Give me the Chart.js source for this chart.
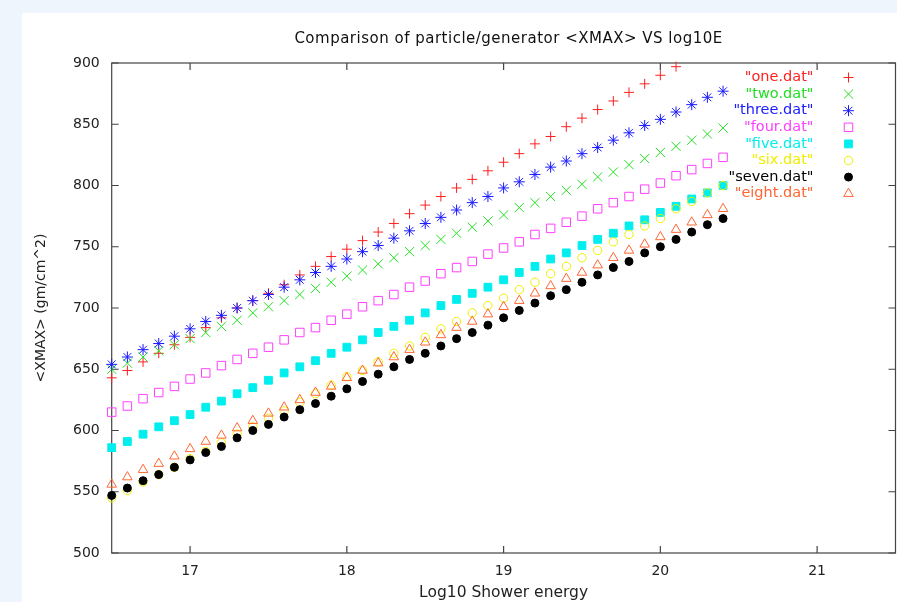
<!DOCTYPE html>
<html>
<head>
<meta charset="utf-8">
<script src="https://cdn.jsdelivr.net/npm/chart.js@4/dist/chart.umd.min.js"></script>
<style>
    html, body { margin: 0; padding: 0; background: #eef5fc; overflow: hidden; }
    #wrap { position: absolute; left: 22px; top: 13px; width: 881px; height: 589px; background: #ffffff; }
</style>
</head>
<body>
<div id="wrap"><canvas id="xmaxChart" width="881" height="589"></canvas></div>
<script>
// log10 shower energy, one point every 0.1
const energies = [16.5, 16.6, 16.7, 16.8, 16.9, 17.0, 17.1, 17.2, 17.3, 17.4,
                  17.5, 17.6, 17.7, 17.8, 17.9, 18.0, 18.1, 18.2, 18.3, 18.4,
                  18.5, 18.6, 18.7, 18.8, 18.9, 19.0, 19.1, 19.2, 19.3, 19.4,
                  19.5, 19.6, 19.7, 19.8, 19.9, 20.0, 20.1, 20.2, 20.3, 20.4];

// <XMAX> per file (gm/cm^2); "one.dat" leaves the plot above 900
const oneDat   = [643, 649, 656, 663, 670, 676, 684, 692, 700, 706, 712, 719, 727, 734, 742, 748, 755, 762, 769, 777,
                  784, 791, 798, 805, 812, 819, 826, 834, 840, 848, 855, 862, 869, 876, 883, 890, 897, null, null, null];
const twoDat   = [650, 655, 660, 665, 670, 675, 680, 685, 690, 696, 701, 706, 711, 716, 721, 726, 731, 736, 741, 746,
                  751, 756, 761, 766, 771, 776, 782, 786, 791, 796, 801, 807, 811, 817, 822, 827, 832, 837, 842, 847];
const threeDat = [654, 660, 666, 671, 677, 683, 689, 694, 700, 706, 711, 717, 723, 729, 734, 740, 746, 751, 757, 763,
                  769, 774, 780, 786, 791, 798, 803, 809, 815, 820, 826, 831, 837, 843, 849, 854, 860, 866, 872, 877];
const fourDat  = [615, 620, 626, 631, 636, 642, 647, 653, 658, 663, 668, 674, 680, 684, 690, 695, 701, 706, 711, 717,
                  722, 728, 733, 738, 744, 749, 754, 760, 765, 770, 775, 781, 786, 791, 797, 802, 808, 813, 818, 823];
const fiveDat  = [586, 591, 597, 603, 608, 613, 619, 624, 630, 635, 641, 647, 652, 657, 663, 668, 674, 680, 685, 690,
                  696, 702, 707, 712, 717, 723, 729, 734, 740, 745, 751, 756, 761, 767, 772, 778, 783, 789, 794, 800];
const sixDat   = [545, 551, 558, 564, 570, 577, 583, 590, 597, 603, 610, 616, 623, 630, 637, 644, 649, 656, 663, 669,
                  676, 683, 689, 696, 702, 708, 715, 721, 728, 734, 741, 747, 754, 760, 767, 773, 781, 787, 794, 800];
const sevenDat = [547, 553, 559, 564, 570, 576, 582, 587, 594, 600, 605, 611, 617, 622, 628, 634, 640, 646, 652, 658,
                  663, 669, 675, 680, 686, 692, 698, 704, 710, 715, 721, 727, 733, 738, 745, 750, 756, 762, 768, 773];
const eightDat = [556, 562, 568, 573, 579, 585, 591, 596, 602, 608, 614, 619, 625, 631, 636, 643, 649, 655, 660, 666,
                  672, 678, 684, 689, 695, 701, 706, 712, 718, 724, 729, 735, 741, 747, 752, 758, 764, 770, 776, 781];

const xTicks = [17, 18, 19, 20, 21];
const yTicks = [500, 550, 600, 650, 700, 750, 800, 850, 900];

const FONT = "'DejaVu Sans', sans-serif";

const series = [
    { label: '"one.dat"',   values: oneDat,   color: '#ff2020', style: 'cross',    radius: 5,   filled: false },
    { label: '"two.dat"',   values: twoDat,   color: '#22e022', style: 'crossRot', radius: 6.5, filled: false },
    { label: '"three.dat"', values: threeDat, color: '#1a1aff', style: 'star',     radius: 5.5, filled: false },
    { label: '"four.dat"',  values: fourDat,  color: '#ff40ff', style: 'rect',     radius: 6,   filled: false },
    { label: '"five.dat"',  values: fiveDat,  color: '#00eeee', style: 'rect',     radius: 5.5, filled: true  },
    { label: '"six.dat"',   values: sixDat,   color: '#eeee00', style: 'circle',   radius: 4.2, filled: false },
    { label: '"seven.dat"', values: sevenDat, color: '#000000', style: 'circle',   radius: 4,   filled: true  },
    { label: '"eight.dat"', values: eightDat, color: '#ff6633', style: 'triangle', radius: 5.5, filled: false }
];

// gnuplot style frame: border on all four sides with inward ticks, title and key
const framePlugin = {
    id: 'frame',
    beforeDatasetsDraw(chart) {
        const { ctx, chartArea: a, scales: { x, y } } = chart;
        const tl = 7;
        ctx.save();
        ctx.strokeStyle = '#444';
        ctx.lineWidth = 1.2;
        ctx.strokeRect(a.left, a.top, a.right - a.left, a.bottom - a.top);
        ctx.beginPath();
        xTicks.forEach(v => {
            const px = x.getPixelForValue(v);
            ctx.moveTo(px, a.bottom); ctx.lineTo(px, a.bottom - tl);
            ctx.moveTo(px, a.top);    ctx.lineTo(px, a.top + tl);
        });
        yTicks.forEach(v => {
            const py = y.getPixelForValue(v);
            ctx.moveTo(a.left, py);  ctx.lineTo(a.left + tl, py);
            ctx.moveTo(a.right, py); ctx.lineTo(a.right - tl, py);
        });
        ctx.stroke();
        ctx.restore();
    },
    afterDraw(chart) {
        const { ctx, chartArea: a } = chart;
        ctx.save();
        ctx.font = '15px ' + FONT;
        ctx.letterSpacing = '0.5px';
        ctx.fillStyle = '#111';
        ctx.textAlign = 'center';
        ctx.textBaseline = 'middle';
        ctx.fillText('Comparison of particle/generator <XMAX> VS log10E', (a.left + a.right) / 2 + 5, 26);

        // key, top right inside the plot
        ctx.font = '14.5px ' + FONT;
        ctx.letterSpacing = '0px';
        ctx.textAlign = 'right';
        series.forEach((s, i) => {
            const ty = a.top + 14.5 + i * 16.6;
            ctx.fillStyle = s.color;
            ctx.fillText(s.label, a.right - 82, ty);
            ctx.strokeStyle = s.color;
            ctx.fillStyle = s.filled ? s.color : 'rgba(0,0,0,0)';
            ctx.lineWidth = 1;
            Chart.helpers.drawPoint(ctx, { pointStyle: s.style, radius: s.radius, rotation: 0, borderWidth: 1 }, a.right - 47, ty);
        });
        ctx.restore();
    }
};

const chart = new Chart(document.getElementById('xmaxChart'), {
    type: 'scatter',
    data: {
        datasets: series.map((s, i) => ({
            label: s.label,
            data: energies.map((e, k) => ({ x: e, y: s.values[k] })).filter(p => p.y !== null),
            pointStyle: s.style,
            pointRadius: s.radius,
            pointHoverRadius: s.radius,
            pointBorderWidth: 1,
            pointBorderColor: s.color,
            pointBackgroundColor: s.filled ? s.color : 'rgba(0,0,0,0)',
            showLine: false,
            clip: false,
            order: series.length - i // later files drawn on top, as gnuplot does
        }))
    },
    options: {
        responsive: false,
        animation: false,
        layout: { padding: { top: 50, right: 2, bottom: 0, left: 0 } },
        plugins: {
            legend: { display: false },
            title: { display: false },
            tooltip: { enabled: false }
        },
        scales: {
            x: {
                type: 'linear',
                min: 16.5,
                max: 21.5,
                grid: { display: false, drawTicks: false },
                border: { display: false },
                afterBuildTicks: (scale) => { scale.ticks = xTicks.map(v => ({ value: v })); },
                afterFit: (scale) => {
                    scale.height = 49;
                    scale.paddingLeft = 0;
                    scale.paddingRight = 0;
                },
                ticks: {
                    padding: 10,
                    color: '#222',
                    font: { family: FONT, size: 14 },
                    callback: (v) => String(v)
                },
                title: {
                    display: true,
                    text: 'Log10 Shower energy',
                    color: '#222',
                    font: { family: FONT, size: 15.5 },
                    padding: { top: 0, bottom: 0 }
                }
            },
            y: {
                type: 'linear',
                min: 500,
                max: 900,
                grid: { display: false, drawTicks: false },
                border: { display: false },
                afterBuildTicks: (scale) => { scale.ticks = yTicks.map(v => ({ value: v })); },
                afterFit: (scale) => {
                    scale.width = 89.7;
                    scale.paddingTop = 0;
                    scale.paddingBottom = 0;
                },
                ticks: {
                    padding: 12,
                    color: '#222',
                    font: { family: FONT, size: 14 },
                    callback: (v) => String(v)
                },
                title: {
                    display: true,
                    text: '<XMAX> (gm/cm^2)',
                    color: '#222',
                    font: { family: FONT, size: 14 },
                    padding: { top: 10.6, bottom: 0 }
                }
            }
        }
    },
    plugins: [framePlugin]
});
</script>
</body>
</html>
